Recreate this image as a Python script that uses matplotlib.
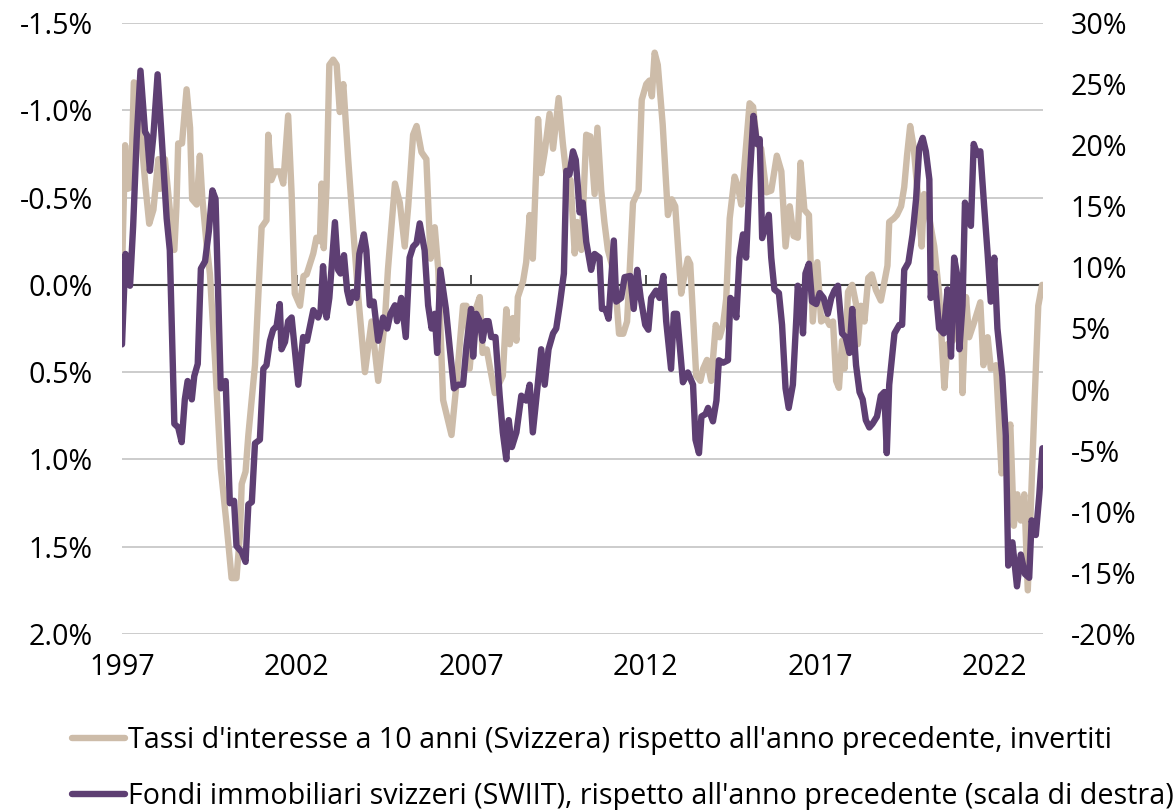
import matplotlib
matplotlib.use("Agg")
import matplotlib.pyplot as plt
import numpy as np

# 10y Swiss rate, yoy change (inverted, left axis), in %
rate_years = [
    1997.01, 1997.09, 1997.16, 1997.26, 1997.34, 1997.43, 1997.55, 1997.68, 1997.78, 1997.9,
    1998.04, 1998.09, 1998.23, 1998.37, 1998.5, 1998.56, 1998.61, 1998.72, 1998.85, 1998.95,
    1999.01, 1999.14, 1999.23, 1999.3, 1999.42, 1999.52, 1999.66, 1999.83, 1999.99, 2000.14,
    2000.28, 2000.38, 2000.43, 2000.54, 2000.62, 2000.81, 2001.0, 2001.14, 2001.19, 2001.28,
    2001.38, 2001.52, 2001.62, 2001.76, 2001.86, 2001.95, 2002.1, 2002.2, 2002.29, 2002.48,
    2002.57, 2002.67, 2002.72, 2002.78, 2002.86, 2002.94, 2003.05, 2003.15, 2003.24, 2003.34,
    2003.48, 2003.62, 2003.77, 2003.96, 2004.15, 2004.34, 2004.53, 2004.62, 2004.82, 2004.96,
    2005.1, 2005.2, 2005.34, 2005.44, 2005.58, 2005.72, 2005.84, 2005.96, 2006.06, 2006.2,
    2006.44, 2006.58, 2006.77, 2006.87, 2006.96, 2007.1, 2007.25, 2007.33, 2007.45, 2007.53,
    2007.68, 2007.91, 2008.01, 2008.11, 2008.2, 2008.3, 2008.34, 2008.49, 2008.58, 2008.68,
    2008.77, 2008.92, 2009.01, 2009.11, 2009.25, 2009.35, 2009.51, 2009.63, 2009.73, 2009.85,
    2009.97, 2010.04, 2010.16, 2010.3, 2010.42, 2010.54, 2010.62, 2010.73, 2010.82, 2010.92,
    2011.04, 2011.16, 2011.24, 2011.36, 2011.47, 2011.54, 2011.64, 2011.8, 2011.89, 2012.02,
    2012.11, 2012.18, 2012.26, 2012.35, 2012.49, 2012.64, 2012.75, 2012.85, 2013.02, 2013.12,
    2013.21, 2013.28, 2013.45, 2013.57, 2013.65, 2013.76, 2013.88, 2014.01, 2014.12, 2014.22,
    2014.31, 2014.41, 2014.55, 2014.65, 2014.74, 2014.84, 2014.98, 2015.08, 2015.19, 2015.31,
    2015.46, 2015.6, 2015.76, 2015.89, 2016.01, 2016.13, 2016.24, 2016.36, 2016.44, 2016.55,
    2016.68, 2016.79, 2016.92, 2017.03, 2017.17, 2017.27, 2017.37, 2017.46, 2017.54, 2017.63,
    2017.7, 2017.8, 2017.92, 2018.03, 2018.08, 2018.17, 2018.27, 2018.38, 2018.48, 2018.6,
    2018.74, 2018.93, 2018.98, 2019.11, 2019.2, 2019.32, 2019.41, 2019.49, 2019.58, 2019.68,
    2019.79, 2019.91, 2019.98, 2020.13, 2020.27, 2020.41, 2020.56, 2020.65, 2020.8, 2020.94,
    2021.03, 2021.08, 2021.18, 2021.27, 2021.42, 2021.59, 2021.68, 2021.8, 2021.89, 2022.04,
    2022.2, 2022.3, 2022.45, 2022.55, 2022.65, 2022.75, 2022.85, 2022.95, 2023.05, 2023.15,
    2023.25, 2023.36,
]
rate_chg = [
    -0.15, -0.80, -0.55, -0.56, -1.16, -1.15, -0.85, -0.55, -0.35, -0.43,
    -0.72, -0.55, -0.72, -0.43, -0.20, -0.45, -0.81, -0.81, -1.12, -0.90,
    -0.49, -0.46, -0.74, -0.50, -0.24, -0.06, 0.41, 1.05, 1.36, 1.68,
    1.68, 1.43, 1.14, 1.07, 0.86, 0.46, -0.33, -0.37, -0.86, -0.60,
    -0.65, -0.65, -0.58, -0.97, -0.52, 0.05, 0.12, -0.05, -0.06, -0.18,
    -0.27, -0.25, -0.58, -0.21, -0.56, -1.26, -1.29, -1.26, -0.99, -1.15,
    -0.72, -0.33, 0.07, 0.50, 0.21, 0.55, 0.21, -0.09, -0.58, -0.47,
    -0.22, -0.45, -0.86, -0.91, -0.76, -0.72, -0.15, -0.33, -0.09, 0.66,
    0.86, 0.57, 0.12, 0.12, 0.48, 0.16, 0.07, 0.39, 0.37, 0.46,
    0.62, 0.52, 0.14, 0.34, 0.19, 0.32, 0.07, -0.02, -0.13, -0.40,
    -0.15, -0.95, -0.64, -0.76, -0.98, -0.78, -1.07, -0.81, -0.63, -0.60,
    -0.18, -0.36, -0.20, -0.86, -0.85, -0.52, -0.90, -0.54, -0.36, -0.20,
    -0.11, 0.07, 0.28, 0.28, 0.21, -0.06, -0.47, -0.54, -1.06, -1.15,
    -1.17, -1.08, -1.33, -1.26, -0.92, -0.40, -0.49, -0.45, 0.05, -0.06,
    -0.15, -0.12, 0.52, 0.55, 0.48, 0.43, 0.55, 0.23, 0.30, 0.23,
    0.08, -0.38, -0.62, -0.56, -0.46, -0.70, -1.04, -1.02, -0.81, -0.78,
    -0.53, -0.54, -0.74, -0.65, -0.22, -0.45, -0.28, -0.27, -0.70, -0.43,
    -0.40, 0.21, -0.13, 0.21, 0.19, 0.23, 0.21, 0.55, 0.59, 0.32,
    0.48, 0.04, 0.00, 0.11, 0.34, 0.12, 0.21, -0.04, -0.06, 0.03,
    0.09, -0.11, -0.36, -0.38, -0.40, -0.45, -0.56, -0.74, -0.91, -0.79,
    -0.54, -0.22, -0.52, -0.38, -0.22, 0.05, 0.59, 0.34, 0.32, 0.03,
    0.12, 0.62, 0.07, 0.30, 0.21, 0.10, 0.46, 0.30, 0.48, 0.46,
    1.08, 0.95, 0.80, 1.38, 1.20, 1.35, 1.20, 1.75, 1.20, 0.64,
    0.12, 0.00,
]

# SWIIT yoy performance (right axis), in %
swiit_years = [
    1997.0, 1997.1, 1997.23, 1997.32, 1997.42, 1997.53, 1997.66, 1997.72, 1997.8, 1997.9,
    1998.02, 1998.14, 1998.28, 1998.37, 1998.5, 1998.61, 1998.71, 1998.8, 1998.88, 1999.0,
    1999.07, 1999.17, 1999.26, 1999.38, 1999.49, 1999.59, 1999.68, 1999.76, 1999.83, 1999.97,
    2000.09, 2000.21, 2000.28, 2000.43, 2000.54, 2000.62, 2000.72, 2000.81, 2000.95, 2001.05,
    2001.14, 2001.24, 2001.33, 2001.43, 2001.52, 2001.57, 2001.67, 2001.76, 2001.86, 2002.05,
    2002.19, 2002.3, 2002.48, 2002.62, 2002.69, 2002.76, 2002.86, 2002.94, 2003.1, 2003.19,
    2003.26, 2003.36, 2003.45, 2003.53, 2003.62, 2003.72, 2003.8, 2003.93, 2004.0, 2004.1,
    2004.21, 2004.34, 2004.48, 2004.6, 2004.69, 2004.82, 2004.88, 2005.0, 2005.13, 2005.24,
    2005.34, 2005.44, 2005.53, 2005.67, 2005.77, 2005.87, 2005.96, 2006.03, 2006.12, 2006.28,
    2006.39, 2006.51, 2006.63, 2006.77, 2006.87, 2007.0, 2007.06, 2007.15, 2007.25, 2007.33,
    2007.42, 2007.5, 2007.58, 2007.7, 2007.82, 2007.91, 2008.01, 2008.08, 2008.17, 2008.3,
    2008.44, 2008.58, 2008.68, 2008.77, 2008.9, 2009.01, 2009.11, 2009.22, 2009.35, 2009.44,
    2009.54, 2009.66, 2009.73, 2009.82, 2009.92, 2010.0, 2010.06, 2010.11, 2010.2, 2010.3,
    2010.44, 2010.54, 2010.68, 2010.75, 2010.85, 2010.94, 2011.09, 2011.16, 2011.3, 2011.4,
    2011.56, 2011.66, 2011.76, 2011.86, 2011.99, 2012.08, 2012.16, 2012.3, 2012.4, 2012.51,
    2012.59, 2012.73, 2012.81, 2012.9, 2013.07, 2013.21, 2013.36, 2013.43, 2013.53, 2013.6,
    2013.72, 2013.79, 2013.93, 2014.03, 2014.1, 2014.22, 2014.36, 2014.43, 2014.52, 2014.6,
    2014.69, 2014.79, 2014.88, 2014.98, 2015.09, 2015.19, 2015.27, 2015.34, 2015.44, 2015.53,
    2015.6, 2015.69, 2015.82, 2015.91, 2016.01, 2016.1, 2016.22, 2016.32, 2016.36, 2016.44,
    2016.51, 2016.58, 2016.68, 2016.77, 2016.89, 2016.99, 2017.1, 2017.22, 2017.32, 2017.41,
    2017.51, 2017.63, 2017.73, 2017.84, 2017.92, 2018.03, 2018.13, 2018.22, 2018.31, 2018.41,
    2018.5, 2018.63, 2018.74, 2018.84, 2018.91, 2018.98, 2019.13, 2019.27, 2019.35, 2019.41,
    2019.53, 2019.65, 2019.75, 2019.84, 2019.94, 2020.03, 2020.13, 2020.17, 2020.27, 2020.41,
    2020.54, 2020.65, 2020.75, 2020.84, 2020.92, 2020.99, 2021.08, 2021.15, 2021.22, 2021.32,
    2021.4, 2021.51, 2021.59, 2021.7, 2021.8, 2021.89, 2021.99, 2022.08, 2022.22, 2022.32,
    2022.39, 2022.51, 2022.64, 2022.75, 2022.87, 2022.99, 2023.06, 2023.18, 2023.28, 2023.37,
]
swiit_yoy = [
    3.7, 11.1, 8.5, 13.4, 20.5, 26.1, 21.1, 20.8, 17.9, 20.8,
    25.8, 20.5, 14.0, 11.4, -2.8, -3.1, -4.3, -0.8, 0.7, -0.8,
    1.1, 2.1, 9.9, 10.5, 13.0, 16.3, 15.6, 7.5, 0.1, 0.7,
    -9.3, -9.1, -12.8, -13.3, -14.1, -9.4, -9.2, -4.4, -4.1, 1.7,
    2.0, 4.0, 4.9, 5.2, 7.0, 3.3, 3.9, 5.6, 5.9, 0.4,
    4.3, 4.0, 6.5, 5.9, 6.5, 10.1, 5.9, 7.5, 13.7, 9.8,
    9.5, 11.0, 8.1, 7.1, 8.0, 7.5, 11.1, 12.7, 11.4, 6.9,
    7.2, 4.0, 5.9, 5.0, 6.2, 6.9, 5.6, 7.5, 4.3, 10.8,
    11.7, 12.0, 13.6, 11.4, 6.9, 5.0, 6.2, 3.0, 9.8, 6.6,
    3.4, 0.1, 0.4, 0.4, 3.6, 6.6, 2.7, 6.2, 5.6, 4.0,
    5.6, 5.6, 4.3, 4.3, -0.5, -3.5, -5.7, -2.5, -4.7, -3.5,
    -0.5, -0.9, 0.4, -3.5, 0.1, 3.3, 0.4, 3.3, 4.6, 5.0,
    6.9, 9.5, 17.9, 17.6, 19.5, 18.8, 16.6, 14.5, 15.3, 12.1,
    9.8, 11.1, 10.8, 6.6, 6.6, 5.8, 12.2, 7.2, 7.5, 9.2,
    9.3, 6.6, 9.8, 7.5, 5.3, 4.9, 7.5, 8.1, 7.5, 9.3,
    5.6, 1.7, 6.2, 6.2, 0.6, 1.4, 0.4, -4.1, -5.2, -2.2,
    -2.0, -1.5, -2.6, -0.9, 2.4, 2.2, 2.4, 7.5, 7.2, 5.9,
    10.8, 12.7, 10.8, 17.2, 22.4, 20.1, 20.5, 12.4, 13.4, 14.3,
    10.8, 8.2, 7.9, 5.3, 0.1, -1.5, 0.4, 5.9, 8.5, 7.5,
    4.6, 9.5, 10.3, 7.2, 7.0, 7.9, 7.5, 6.2, 7.5, 8.1,
    8.5, 4.6, 4.3, 3.0, 6.6, 2.0, -0.2, -0.8, -2.5, -3.1,
    -2.8, -2.2, -0.5, -0.2, -5.2, 0.4, 4.6, 5.3, 5.3, 9.8,
    10.4, 12.7, 15.6, 19.8, 20.6, 19.5, 17.2, 7.5, 9.5, 5.0,
    4.6, 8.2, 2.7, 10.8, 9.5, 3.3, 6.9, 15.3, 14.3, 13.4,
    20.1, 19.2, 19.5, 15.0, 11.1, 7.2, 10.8, 5.0, 1.1, -3.8,
    -14.4, -12.5, -16.1, -13.5, -15.1, -15.4, -10.7, -11.9, -8.6, -4.8,
]

left_ticks = [-1.5, -1.0, -0.5, 0.0, 0.5, 1.0, 1.5, 2.0]
right_ticks = [30, 25, 20, 15, 10, 5, 0, -5, -10, -15, -20]
year_ticks = [1997, 2002, 2007, 2012, 2017, 2022]

label_rate = "Tassi d'interesse a 10 anni (Svizzera) rispetto all'anno precedente, invertiti"
label_swiit = "Fondi immobiliari svizzeri (SWIIT), rispetto all'anno precedente (scala di destra)"

TAN = "#cdbca9"
PURPLE = "#5e3f73"
GRID = "#c8c8c8"
AXIS = "#404040"

plt.rcParams['font.family'] = ['Open Sans', 'DejaVu Sans']
FS = 20.6

fig = plt.figure(figsize=(11.73, 8.10), dpi=100)
ax = fig.add_axes([0.104, 0.2173, 0.785, 0.7543])
ax2 = ax.twinx()

ax.set_xlim(1997.0, 2023.38)
ax.set_ylim(2.0, -1.5)
ax2.set_ylim(-20, 30)

ax.set_yticks(left_ticks)
ax.set_yticklabels(["%.1f%%" % v for v in left_ticks])
ax2.set_yticks(right_ticks)
ax2.set_yticklabels(["%d%%" % v for v in right_ticks])
ax.set_xticks(year_ticks)
ax.set_xticklabels([str(y) for y in year_ticks])

ax.grid(axis='y', color=GRID, lw=1.3)
ax.set_axisbelow(True)
for a in (ax, ax2):
    for s in a.spines.values():
        s.set_visible(False)
# pads in points (30 px / 29 px at 100 dpi)
ax.tick_params(axis='y', length=0, pad=21, labelsize=FS)
ax2.tick_params(axis='y', length=0, pad=20, labelsize=FS)
ax.tick_params(axis='x', length=0, pad=14, labelsize=FS)

# zero line with small year ticks
ax.axhline(0, color=AXIS, lw=1.5, zorder=1)
ax.vlines(year_ticks, 0, -0.055, color=AXIS, lw=1.3, zorder=1)

l1, = ax.plot(rate_years, rate_chg, color=TAN, lw=4.6,
              solid_joinstyle='round', solid_capstyle='round', zorder=2)
l2, = ax2.plot(swiit_years, swiit_yoy, color=PURPLE, lw=4.6,
               solid_joinstyle='round', solid_capstyle='round', zorder=3)

fig.legend([l1, l2], [label_rate, label_swiit], loc='upper left',
           bbox_to_anchor=(72 / 1173, 1 - 726 / 810), frameon=False,
           fontsize=FS, handlelength=1.85, handletextpad=0.1,
           labelspacing=0.95, borderpad=0, borderaxespad=0)

fig.savefig("out.png", dpi=100)
